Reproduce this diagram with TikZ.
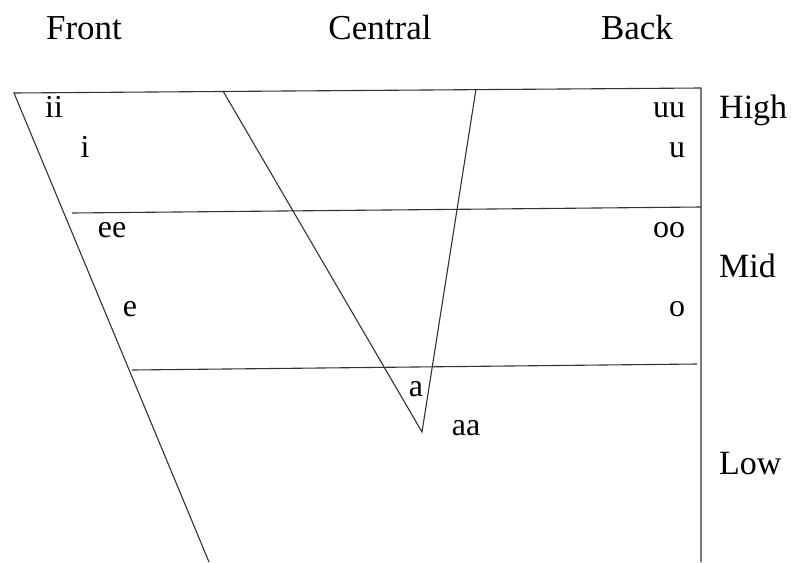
\documentclass[tikz,border=0pt]{standalone}
\usepackage{fontspec}
\setmainfont{Liberation Serif}
\begin{document}
\begin{tikzpicture}[x=1pt,y=-1pt,
  chartline/.style={line width=1.1pt,draw=black!80},
  head/.style={font=\fontsize{35}{40}\selectfont,inner sep=0pt,anchor=base},
  vowel/.style={font=\fontsize{32}{38}\selectfont,inner sep=0pt,anchor=base},
  level/.style={font=\fontsize{34}{40}\selectfont,inner sep=0pt,anchor=base west}]
\useasboundingbox (0,0) rectangle (791,562);
% frame coordinates
\coordinate (TL) at (14,93);
\coordinate (TR) at (701,88);
\coordinate (BL) at (209,562);
\coordinate (BR) at (701,562);
\coordinate (C1top) at (223,91);
\coordinate (C2top) at (476,89);
\coordinate (Ctip) at (422,432);
\coordinate (M1L) at (72,213);
\coordinate (M1R) at (701,207);
\coordinate (M2L) at (132,370);
\coordinate (M2R) at (697,364);
% lines
\draw[chartline] (BL) -- (TL) -- (TR) -- (BR);
\draw[chartline] (C1top) -- (Ctip) -- (C2top);
\draw[chartline] (M1L) -- (M1R);
\draw[chartline] (M2L) -- (M2R);
% headers
\node[head] (front) at (84,39) {Front};
\node[head] (central) at (380,39) {Central};
\node[head] (back) at (637,39) {Back};
\node[level] (high) at (719,118) {High};
\node[level] (mid) at (719,277) {Mid};
\node[level] (low) at (719,474) {Low};
% vowels
\node[vowel] (ii) at (54,117) {ii};
\node[vowel] (i) at (85,157) {i};
\node[vowel] (uu) at (669,117) {uu};
\node[vowel] (u) at (677,157) {u};
\node[vowel] (ee) at (112,237) {ee};
\node[vowel] (oo) at (669,237) {oo};
\node[vowel] (e) at (130,316) {e};
\node[vowel] (o) at (677,316) {o};
\node[vowel] (a) at (416,396) {a};
\node[vowel] (aa) at (466,435) {aa};
\end{tikzpicture}
\end{document}
